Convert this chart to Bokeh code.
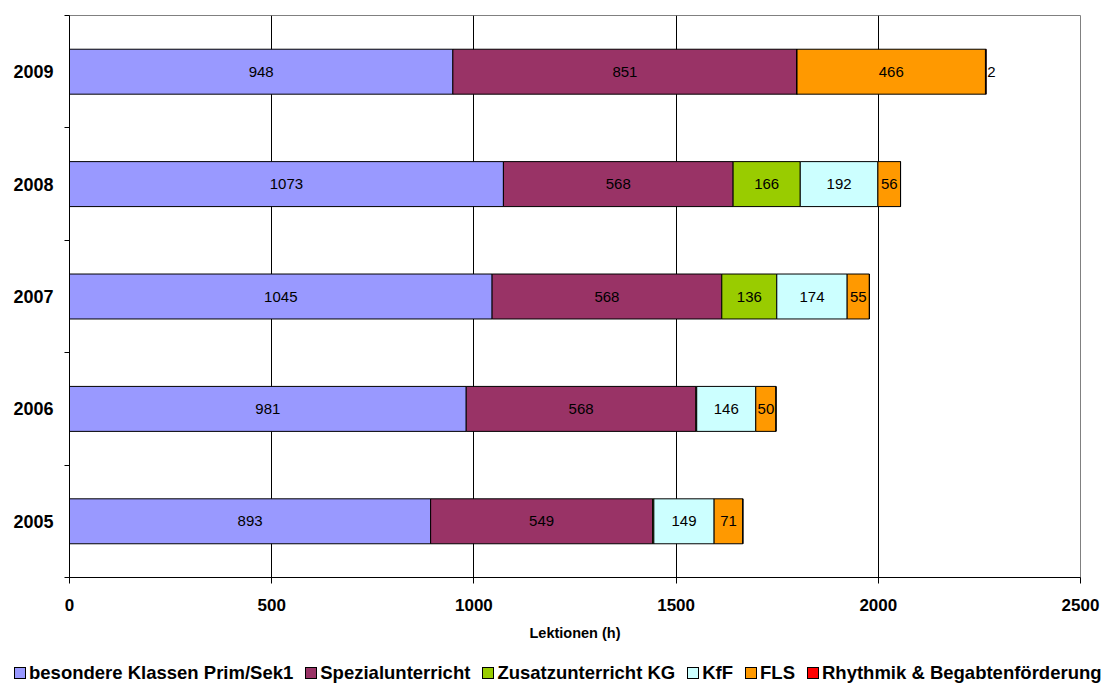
from bokeh.plotting import figure
from bokeh.layouts import column
from bokeh.models import ColumnDataSource, Range1d, FixedTicker, Div
from bokeh.core.properties import value
from bokeh.embed import file_html
from bokeh.resources import INLINE

years = ["2005", "2006", "2007", "2008", "2009"]
series_names = ["besondere Klassen Prim/Sek1", "Spezialunterricht", "Zusatzunterricht KG",
                "KfF", "FLS", "Rhythmik & Begabtenförderung"]
besondere = [893, 981, 1045, 1073, 948]
spezial = [549, 568, 568, 568, 851]
zusatz = [3, 2, 136, 166, 0]
kff = [149, 146, 174, 192, 0]
fls = [71, 50, 55, 56, 466]
rhythmik = [0, 0, 0, 0, 2]
colors = ["#9999FF", "#993366", "#99CC00", "#CCFFFF", "#FF9900", "#FF0000"]
x_ticks = [0, 500, 1000, 1500, 2000, 2500]

series = [besondere, spezial, zusatz, kff, fls, rhythmik]
keys = ["s0", "s1", "s2", "s3", "s4", "s5"]
ypos = list(range(1, len(years) + 1))

data = {"y": ypos}
for k, s in zip(keys, series):
    data[k] = s
source = ColumnDataSource(data)

FONT = "Liberation Sans"
LEG_H = 40

p = figure(width=1103, height=686 - LEG_H, x_range=Range1d(0, 2500), y_range=Range1d(0.5, 5.5),
           output_backend="svg", toolbar_location=None, tools="",
           min_border_left=69, min_border_right=23, min_border_top=15,
           min_border_bottom=686 - LEG_H - 577)

renderers = p.hbar_stack(keys, y="y", height=0.4, color=colors, source=source,
                         line_color="black", line_width=1)

# data labels
lx, ly, lt, rx, ry, rt = [], [], [], [], [], []
for i, y in enumerate(ypos):
    cum = 0
    for j, s in enumerate(series):
        v = s[i]
        if j == 5:
            if v > 0:
                rx.append(cum + v)
                ry.append(y)
                rt.append(str(v))
        elif v >= 10:
            lx.append(cum + v / 2)
            ly.append(y)
            lt.append(str(v))
        cum += v
p.text(x=lx, y=ly, text=lt, text_align="center", text_baseline="middle",
       text_font=value(FONT), text_font_size="15px", text_color="black")
p.text(x=rx, y=ry, text=rt, text_align="left", text_baseline="middle", x_offset=1,
       text_font=value(FONT), text_font_size="15px", text_color="black")

# axes
p.xaxis.ticker = FixedTicker(ticks=x_ticks)
p.xaxis.major_label_text_font = FONT
p.xaxis.major_label_text_font_style = "bold"
p.xaxis.major_label_text_font_size = "17px"
p.xaxis.major_label_text_color = "black"
p.xaxis.major_tick_out = 6
p.xaxis.major_tick_in = 0
p.xaxis.minor_tick_out = 0
p.xaxis.major_label_standoff = 15
p.xaxis.axis_label = "Lektionen (h)"
p.xaxis.axis_label_text_font = FONT
p.xaxis.axis_label_text_font_style = "bold"
p.xaxis.axis_label_text_font_size = "14.5px"
p.xaxis.axis_label_text_color = "black"
p.xaxis.axis_label_standoff = 11
p.xaxis.axis_line_color = "black"
p.xaxis.major_tick_line_color = "black"

p.yaxis.ticker = FixedTicker(ticks=ypos, minor_ticks=[y - 0.5 for y in ypos] + [ypos[-1] + 0.5])
p.yaxis.major_label_overrides = {y: lab for y, lab in zip(ypos, years)}
p.yaxis.major_label_text_font = FONT
p.yaxis.major_label_text_font_style = "bold"
p.yaxis.major_label_text_font_size = "18px"
p.yaxis.major_label_text_color = "black"
p.yaxis.major_tick_out = 0
p.yaxis.major_tick_in = 0
p.yaxis.minor_tick_out = 5
p.yaxis.minor_tick_in = 0
p.yaxis.minor_tick_line_color = "black"
p.yaxis.major_label_standoff = 11
p.yaxis.axis_line_color = "black"

p.xgrid.ticker = FixedTicker(ticks=x_ticks)
p.xgrid.grid_line_color = "black"
p.xgrid.grid_line_width = 1
p.ygrid.grid_line_color = None
p.outline_line_color = "#808080"
p.background_fill_color = "white"
p.border_fill_color = "white"

# legend strip (HTML, real text)
parts = []
for name, c in zip(series_names, colors):
    parts.append(
        '<span style="display:inline-flex;align-items:center;margin-right:12px;">'
        f'<span style="display:inline-block;width:12px;height:12px;background:{c};'
        'border:1px solid #000;margin-right:3px;"></span>'
        f'<span>{name}</span></span>'
    )
legend_html = (
    f'<div style="display:flex;align-items:center;height:20px;margin-top:17px;padding-left:14px;'
    f'font-family:\'{FONT}\';font-weight:bold;font-size:18.5px;color:#000;white-space:nowrap;'
    'line-height:20px;">' + "".join(parts) + '</div>'
)
legend_div = Div(text=legend_html, width=1103, height=LEG_H, margin=0)

layout = column(p, legend_div, spacing=0)
open("out.html", "w").write(file_html(layout, INLINE))
